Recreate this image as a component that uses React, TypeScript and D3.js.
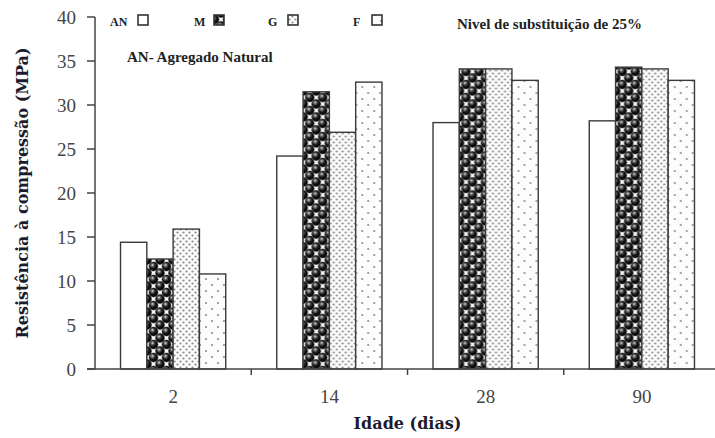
import React from "react";
import * as d3 from "d3";

// Compressive strength by age, 25% substitution level
const ages = ["2", "14", "28", "90"];
const seriesKeys = ["AN", "M", "G", "F"];
const valuesAN = [14.4, 24.2, 28.0, 28.2];
const valuesM = [12.5, 31.5, 34.1, 34.3];
const valuesG = [15.9, 26.9, 34.1, 34.1];
const valuesF = [10.8, 32.6, 32.8, 32.8];
const yTicks = [0, 5, 10, 15, 20, 25, 30, 35, 40];

const W = 715;
const H = 438;
const left = 95;
const right = 720;
const top = 17;
const bottom = 369;

const serif = "'Liberation Serif', 'Times New Roman', serif";
const slab = "'DejaVu Serif', serif";

const fills: Record<string, string> = {
  AN: "#ffffff",
  M: "url(#patM)",
  G: "url(#patG)",
  F: "url(#patF)",
};

// sphere centres inside one 13x13 tile of the "M" pattern
const ballPos = [
  [0, 0],
  [13, 0],
  [0, 13],
  [13, 13],
  [6.5, 6.5],
];

export default function App() {
  const series: Record<string, number[]> = { AN: valuesAN, M: valuesM, G: valuesG, F: valuesF };

  const x0 = d3.scaleBand<string>().domain(ages).range([left, right]).paddingInner(0).paddingOuter(0);
  const x1 = d3
    .scaleBand<string>()
    .domain(seriesKeys)
    .range([0, x0.bandwidth()])
    .paddingOuter(0.97)
    .paddingInner(0);
  const y = d3.scaleLinear().domain([0, 40]).range([bottom, top]);

  const boundaries = ages.slice(1).map((a) => x0(a) as number);

  const legend = [
    { key: "AN", tx: 110, bx: 138 },
    { key: "M", tx: 194, bx: 214 },
    { key: "G", tx: 268, bx: 288 },
    { key: "F", tx: 353, bx: 372 },
  ];

  return (
    <svg width={W} height={H} style={{ position: "absolute", left: 0, top: 0, background: "#fff" }}>
      <defs>
        <radialGradient id="ball" cx="0.4" cy="0.38" r="0.65" fx="0.38" fy="0.32">
          <stop offset="0" stopColor="#f0f0f0" />
          <stop offset="0.22" stopColor="#707070" />
          <stop offset="0.55" stopColor="#151515" />
          <stop offset="1" stopColor="#000" />
        </radialGradient>
        <pattern id="patM" width={13} height={13} patternUnits="userSpaceOnUse">
          <rect width={13} height={13} fill="#f6f6f6" />
          {ballPos.map(([cx, cy], i) => (
            <circle key={i} cx={cx} cy={cy} r={4.4} fill="url(#ball)" stroke="#111" strokeWidth={0.6} />
          ))}
        </pattern>
        <pattern id="patG" width={6} height={6} patternUnits="userSpaceOnUse">
          <rect width={6} height={6} fill="#fbfbfb" />
          <circle cx={1.5} cy={1.5} r={1.1} fill="#8a8a8a" />
          <circle cx={4.5} cy={4.5} r={1.1} fill="#8a8a8a" />
        </pattern>
        <pattern id="patF" width={12} height={12} patternUnits="userSpaceOnUse">
          <rect width={12} height={12} fill="#fdfdfd" />
          <circle cx={3} cy={3} r={1.1} fill="#8f8f8f" />
          <circle cx={9} cy={9} r={1.1} fill="#8f8f8f" />
        </pattern>
      </defs>

      {/* bars */}
      {ages.map((age, i) => (
        <g key={age} transform={`translate(${x0(age)},0)`}>
          {seriesKeys.map((k) => {
            const v = series[k][i];
            return (
              <rect
                key={k}
                x={x1(k)}
                y={y(v)}
                width={x1.bandwidth()}
                height={y(0) - y(v)}
                fill={fills[k]}
                stroke="#3a3a3a"
                strokeWidth={1.4}
              />
            );
          })}
        </g>
      ))}

      {/* y axis */}
      <line x1={left} x2={left} y1={top} y2={bottom} stroke="#444" strokeWidth={1.5} />
      {yTicks.map((t) => (
        <g key={t}>
          <line x1={left - 8} x2={left} y1={y(t)} y2={y(t)} stroke="#444" strokeWidth={1.5} />
          <text
            x={76}
            y={y(t)}
            dy="0.35em"
            textAnchor="end"
            fontFamily={serif}
            fontSize={19}
            fill="#444"
          >
            {t}
          </text>
        </g>
      ))}

      {/* x axis */}
      <line x1={left - 8} x2={W} y1={bottom} y2={bottom} stroke="#444" strokeWidth={1.5} />
      {boundaries.map((bx, i) => (
        <line key={i} x1={bx} x2={bx} y1={bottom} y2={bottom + 6} stroke="#444" strokeWidth={1.5} />
      ))}
      {ages.map((a) => (
        <text
          key={a}
          x={(x0(a) as number) + x0.bandwidth() / 2}
          y={403}
          textAnchor="middle"
          fontFamily={serif}
          fontSize={19}
          fill="#444"
        >
          {a}
        </text>
      ))}

      {/* axis titles */}
      <text
        x={(left + right) / 2}
        y={429}
        textAnchor="middle"
        fontFamily={slab}
        fontWeight="bold"
        fontSize={16}
        fill="#1c1c2e"
      >
        Idade (dias)
      </text>
      <text
        transform={`translate(28,${(top + bottom) / 2}) rotate(-90)`}
        textAnchor="middle"
        fontFamily={slab}
        fontWeight="bold"
        fontSize={16}
        fill="#1c1c2e"
      >
        Resistência à compressão (MPa)
      </text>

      {/* legend */}
      {legend.map((l) => (
        <g key={l.key}>
          <text x={l.tx} y={26} fontFamily={serif} fontWeight="bold" fontSize={12} fill="#222">
            {l.key}
          </text>
          <rect
            x={l.bx}
            y={15}
            width={10}
            height={10}
            fill={fills[l.key]}
            stroke="#333"
            strokeWidth={1.6}
          />
        </g>
      ))}
      <text x={127} y={62} fontFamily={serif} fontWeight="bold" fontSize={15} fill="#222">
        AN- Agregado Natural
      </text>
      <text x={457} y={29} fontFamily={serif} fontWeight="bold" fontSize={15} fill="#222">
        Nivel de substituição de 25%
      </text>
    </svg>
  );
}
